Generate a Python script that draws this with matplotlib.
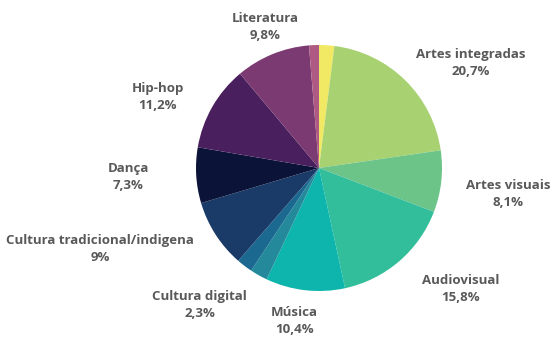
import matplotlib
matplotlib.use('agg')
import matplotlib.pyplot as plt

# slices clockwise from 12 o'clock
categories = ['', 'Artes integradas', 'Artes visuais', 'Audiovisual', 'Música',
              'Cultura digital', '', 'Cultura tradicional/indigena', 'Dança',
              'Hip-hop', 'Literatura', '']
values = [2.0, 20.7, 8.1, 15.8, 10.4, 2.3, 2.1, 9.0, 7.3, 11.2, 9.8, 1.3]
value_labels = ['', '20,7%', '8,1%', '15,8%', '10,4%', '2,3%', '', '9%', '7,3%',
                '11,2%', '9,8%', '']
colors = ['#f1e964', '#a8d172', '#6dc488', '#33be9b', '#0db5ac', '#23899b',
          '#1b6991', '#1a3a68', '#0b1438', '#4a1f5d', '#7b3a71', '#ae5a82']

# label centres, in units of the pie radius
label_pos = [None, (1.23, 0.85), (1.54, -0.21), (1.15, -0.98), (-0.2, -1.24),
             (-0.97, -1.11), None, (-1.78, -0.66), (-1.55, -0.07),
             (-1.31, 0.58), (-0.44, 1.15), None]

W, H = 551, 339
cx, cy, r = 319, 168, 123

fig = plt.figure(figsize=(W / 100, H / 100), dpi=100)
ax = fig.add_axes([0, 0, 1, 1])
ax.pie(values, colors=colors, startangle=90, counterclock=False,
       wedgeprops=dict(linewidth=0))
ax.set_xlim(-cx / r, (W - cx) / r)
ax.set_ylim(-(H - cy) / r, cy / r)

for name, val, pos in zip(categories, value_labels, label_pos):
    if pos is None:
        continue
    ax.text(pos[0], pos[1], name + '\n' + val, ha='center', va='center',
            fontsize=9.5, fontweight='bold', color='#595959',
            family='Open Sans', linespacing=1.4)

fig.savefig('out.png', dpi=100)
